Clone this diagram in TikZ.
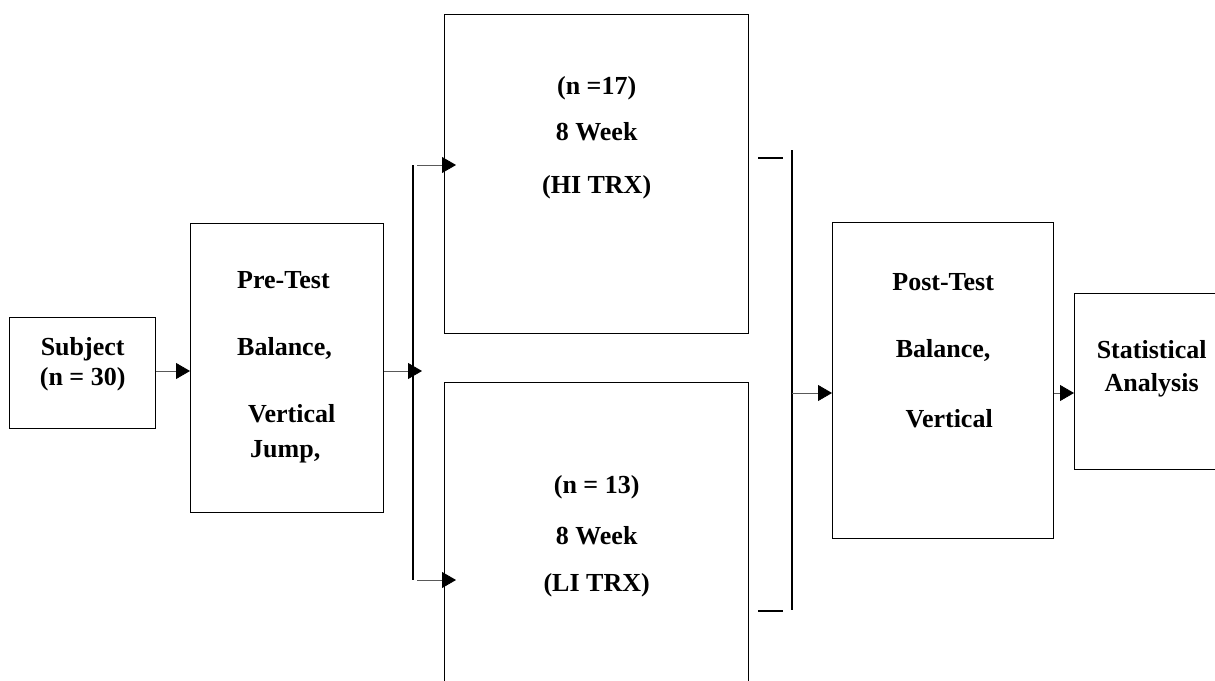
\documentclass[tikz,border=0pt]{standalone}
\usepackage{fontspec}
\setmainfont{Liberation Serif}
\usetikzlibrary{arrows.meta,positioning}

\begin{document}
\begin{tikzpicture}[x=1pt, y=-1pt]
% Define block styles
\tikzstyle{block} = [rectangle, draw, line width=1.3pt, inner sep=0pt, anchor=north west]
\tikzstyle{caption} = [font=\bfseries\fontsize{26}{30}\selectfont, inner sep=0pt, align=center]
\tikzstyle{line} = [draw, line width=0.8pt, black!65, -{Triangle[length=14pt, width=16pt, color=black]}]
\tikzstyle{rail} = [draw, line width=1.2pt]

    \useasboundingbox (0,0) rectangle (1215,680);
    \clip (0,0) rectangle (1215,680);

    % Place nodes
    \node [block, minimum width=146pt, minimum height=111pt] (subject) at (9,317) {};
    \node [block, minimum width=193pt, minimum height=289pt] (pretest) at (190,223) {};
    \node [block, minimum width=304pt, minimum height=319pt] (hitrx) at (444,14) {};
    \node [block, minimum width=304pt, minimum height=319pt] (litrx) at (444,382) {};
    \node [block, minimum width=221pt, minimum height=316pt] (posttest) at (832,222) {};
    \node [block, minimum width=154pt, minimum height=176pt] (stats) at (1074,293) {};

    % Place texts
    \node [caption, below=20pt of subject.north] (subject-text) {Subject\\(n = 30)};
    \node [caption, align=left, below right=48.5pt and 47pt of pretest.north west] (pretest-text)
        {Pre-Test\\[37pt]Balance,\\[37pt]\hspace*{11pt}Vertical\\[5pt]\hspace*{13pt}Jump,};
    \node [caption, below=62.5pt of hitrx.north] (hitrx-text) {(n =17)\\[16pt]8 Week\\[23pt](HI TRX)};
    \node [caption, below=93.5pt of litrx.north] (litrx-text) {(n = 13)\\[21pt]8 Week\\[17pt](LI TRX)};
    \node [caption, below=51.5pt of posttest.north] (posttest-text)
        {Post-Test\\[37pt]Balance,\\[40pt]\hspace*{12pt}Vertical};
    \node [caption, below=47.5pt of stats.north] (stats-text) {Statistical\\[3pt]Analysis};

    % Fork and join points
    \coordinate (fork-top) at (413,165);
    \coordinate (fork-mid) at (413,371);
    \coordinate (fork-bot) at (413,580);
    \coordinate (join-top) at (792,150);
    \coordinate (join-mid) at (792,393);
    \coordinate (join-bot) at (792,610);
    \coordinate (hi-out) at (758,158);
    \coordinate (li-out) at (758,611);

    % Draw edges
    \path [line] (subject.east |- fork-mid) -- (pretest.west |- fork-mid);
    \path [line, shorten >=-9pt] (pretest.east |- fork-mid) -- (fork-mid);
    \path [rail] (fork-top) -- (fork-bot);
    \path [line, shorten <=4pt, shorten >=-12pt] (fork-top) -- (fork-top -| hitrx.west);
    \path [line, shorten <=4pt, shorten >=-12pt] (fork-bot) -- (fork-bot -| litrx.west);
    \path [rail] (hi-out) -- ++(25,0);
    \path [rail] (li-out) -- ++(25,0);
    \path [rail] (join-top) -- (join-bot);
    \path [line] (join-mid) -- (join-mid -| posttest.west);
    \path [line] (join-mid -| posttest.east) -- (join-mid -| stats.west);
\end{tikzpicture}
\end{document}
